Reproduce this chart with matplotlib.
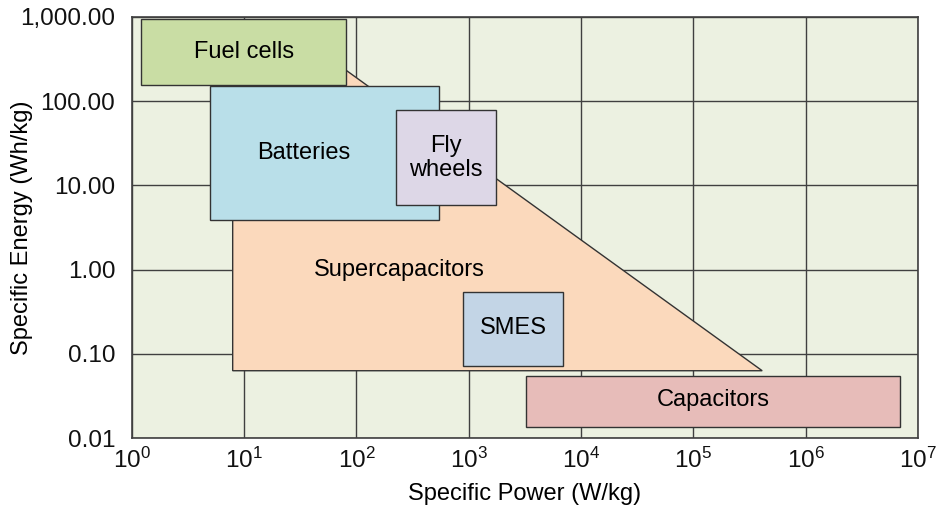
import matplotlib
matplotlib.use("Agg")
import matplotlib.pyplot as plt
from matplotlib.patches import Rectangle, Polygon
from matplotlib.ticker import FixedLocator, FixedFormatter

plt.rcParams['font.family'] = ['Liberation Sans', 'DejaVu Sans']
plt.rcParams['mathtext.fontset'] = 'custom'
plt.rcParams['mathtext.rm'] = 'Liberation Sans'
plt.rcParams['mathtext.it'] = 'Liberation Sans'

# Data: technology regions (specific power W/kg, specific energy Wh/kg)
rect_names = ["Fuel cells", "Batteries", "Fly\nwheels", "SMES", "Capacitors"]
rect_power = [(1.2, 81), (5.0, 548), (227, 1750), (890, 6900), (3200, 6.9e6)]
rect_energy = [(155, 950), (3.9, 151), (5.9, 79), (0.072, 0.54), (0.0135, 0.054)]
rect_colors = ["#c9dda4", "#b9dfe9", "#ddd7e7", "#c3d5e6", "#e7bcb9"]
label_power = [10, 34, 630, 2500, 1.5e5]
label_energy = [385, 24, 21, 0.2, 0.028]

supercap_power = [7.9, 7.9, 50, 4.1e5]
supercap_energy = [0.063, 370, 370, 0.063]
supercap_label_pos = (240, 1.0)

x_ticks = [1e0, 1e1, 1e2, 1e3, 1e4, 1e5, 1e6, 1e7]
x_labels = [r"$10^{%d}$" % i for i in range(8)]
y_ticks = [0.01, 0.1, 1, 10, 100, 1000]
y_labels = ["0.01", "0.10", "1.00", "10.00", "100.00", "1,000.00"]

fig = plt.figure(figsize=(9.42, 5.07), dpi=100)
ax = fig.add_axes([0.140, 0.136, 0.8345, 0.8305])
ax.set_xscale("log")
ax.set_yscale("log")
ax.set_xlim(1, 1e7)
ax.set_ylim(0.01, 1000)
ax.set_facecolor("#ecf1e1")
ax.set_axisbelow(True)
ax.grid(True, which="major", color="#404040", lw=1.0)
ax.minorticks_off()
ax.xaxis.set_major_locator(FixedLocator(x_ticks))
ax.xaxis.set_major_formatter(FixedFormatter(x_labels))
ax.yaxis.set_major_locator(FixedLocator(y_ticks))
ax.yaxis.set_major_formatter(FixedFormatter(y_labels))
ax.tick_params(length=0, labelsize=17.5, colors="#111111")
ax.tick_params(axis="y", pad=12)
ax.tick_params(axis="x", pad=7)
for s in ax.spines.values():
    s.set_color("#404040")
    s.set_linewidth(1.2)

edge = "#333333"
# Supercapacitors polygon
poly = Polygon(list(zip(supercap_power, supercap_energy)), closed=True,
               facecolor="#fbd9bc", edgecolor=edge, lw=1.0, zorder=2)
ax.add_patch(poly)
ax.text(*supercap_label_pos, "Supercapacitors", ha="center", va="center",
        fontsize=17, zorder=6)

zorders = [4, 3, 5, 4, 4]
for name, (x0, x1), (y0, y1), c, z, lx, ly in zip(
        rect_names, rect_power, rect_energy, rect_colors, zorders,
        label_power, label_energy):
    ax.add_patch(Rectangle((x0, y0), x1 - x0, y1 - y0, facecolor=c,
                           edgecolor=edge, lw=1.0, zorder=z))
    ax.text(lx, ly, name, ha="center", va="center", fontsize=17,
            zorder=z + 0.5, linespacing=1.1)

ax.set_xlabel("Specific Power (W/kg)", fontsize=17)
ax.set_ylabel("Specific Energy (Wh/kg)", fontsize=17)
ax.xaxis.set_label_coords(0.5, -0.107)
ax.yaxis.set_label_coords(-0.126, 0.5)

fig.savefig("out.png", dpi=100)
